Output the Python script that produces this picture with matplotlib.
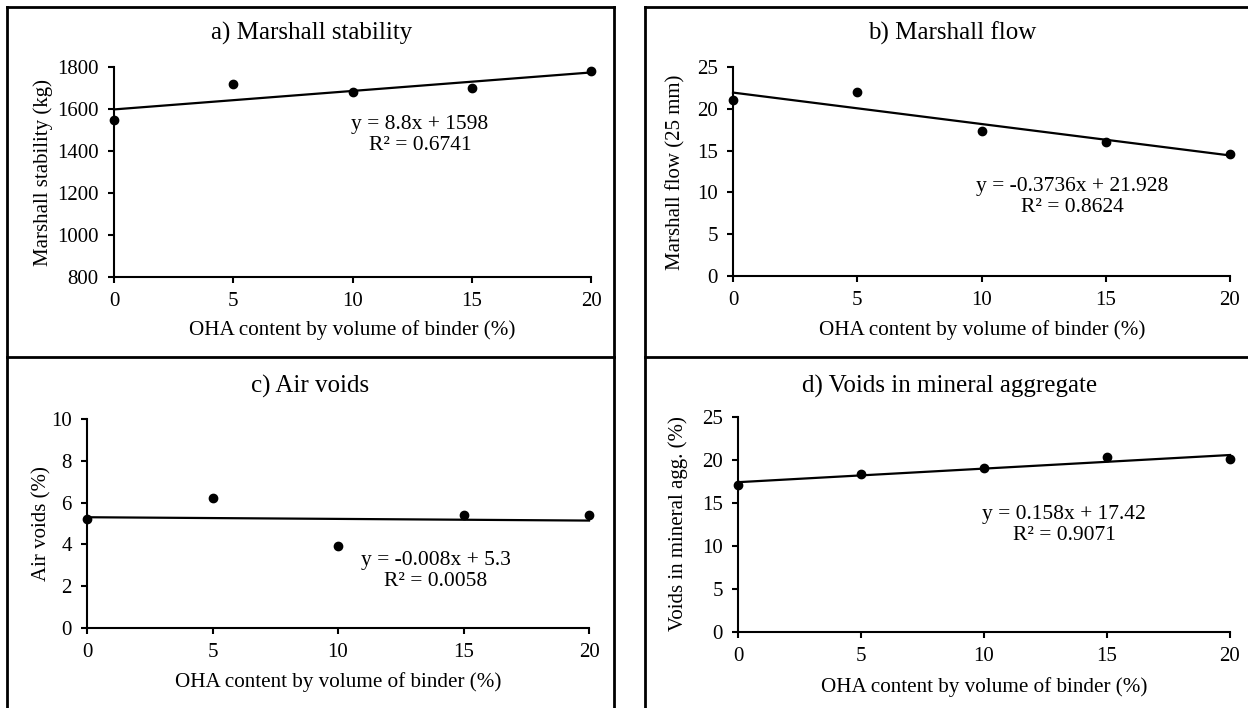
import numpy as np
import matplotlib
matplotlib.use("Agg")
import matplotlib.pyplot as plt
from matplotlib.lines import Line2D

plt.rcParams['font.family'] = ['Liberation Serif', 'DejaVu Serif']

# Data
oha = [0, 5, 10, 15, 20]
stability = [1550, 1720, 1680, 1700, 1780]
flow = [21.0, 22.0, 17.3, 16.0, 14.6]
air_voids = [5.2, 6.2, 3.9, 5.4, 5.4]
vma = [17.1, 18.4, 19.1, 20.3, 20.1]

titles = ["a) Marshall stability", "b) Marshall flow",
          "c) Air voids", "d) Voids in mineral aggregate"]
ylabels = ["Marshall stability (kg)", "Marshall flow (25 mm)",
           "Air voids (%)", "Voids in mineral agg. (%)"]
xlabel = "OHA content by volume of binder (%)"
equations = ["y = 8.8x + 1598\nR² = 0.6741",
             "y = -0.3736x + 21.928\nR² = 0.8624",
             "y = -0.008x + 5.3\nR² = 0.0058",
             "y = 0.158x + 17.42\nR² = 0.9071"]
yticks = [[800, 1000, 1200, 1400, 1600, 1800],
          [0, 5, 10, 15, 20, 25],
          [0, 2, 4, 6, 8, 10],
          [0, 5, 10, 15, 20, 25]]
series = [stability, flow, air_voids, vma]

W, H = 1248, 708

# layout in pixels: axes (left, top, right, bottom), title, ylabel, xlabel, equation
layout = [
    dict(ax=(114, 67, 591, 277), title=(312, 33), ylab=(43, 172), xlab=(352, 330), eq=(420, 135)),
    dict(ax=(733, 67, 1230, 276), title=(952, 33), ylab=(676, 172), xlab=(982, 330), eq=(1072, 197)),
    dict(ax=(87, 419, 589, 628), title=(310, 386), ylab=(42, 524), xlab=(338, 682), eq=(436, 571)),
    dict(ax=(738, 417, 1230, 632), title=(950, 386), ylab=(678, 524), xlab=(984, 687), eq=(1064, 525)),
]


def fx(x):
    return x / W


def fy(y):
    return 1 - y / H


fig = plt.figure(figsize=(12.48, 7.08), dpi=100)

for i in range(4):
    lay = layout[i]
    l, t, r, b = lay["ax"]
    ax = fig.add_axes([fx(l), fy(b), (r - l) / W, (b - t) / H])
    y = series[i]

    # linear trendline
    k, c = np.polyfit(oha, y, 1)
    xs = np.array([0, 20])
    ax.plot(xs, k * xs + c, color="black", lw=1.6, clip_on=False)
    ax.plot(oha, y, "o", color="black", ms=6, clip_on=False, zorder=3)

    ax.set_xlim(0, 20)
    ax.set_ylim(yticks[i][0], yticks[i][-1])
    ax.set_xticks(oha)
    ax.set_yticks(yticks[i])
    for s in ["top", "right"]:
        ax.spines[s].set_visible(False)
    for s in ["left", "bottom"]:
        ax.spines[s].set_linewidth(1.5)
    ax.tick_params(axis="both", direction="out", length=4, width=1.5,
                   labelsize=15, pad=7, colors="black")
    ax.patch.set_alpha(0)

    fig.text(fx(lay["title"][0]), fy(lay["title"][1]), titles[i],
             ha="center", va="center", fontsize=18)
    fig.text(fx(lay["ylab"][0]), fy(lay["ylab"][1]), ylabels[i],
             ha="center", va="center", rotation=90, fontsize=15)
    fig.text(fx(lay["xlab"][0]), fy(lay["xlab"][1]), xlabel,
             ha="center", va="center", fontsize=15.2)
    fig.text(fx(lay["eq"][0]), fy(lay["eq"][1]), equations[i],
             ha="center", va="center", multialignment="center",
             fontsize=15.5, linespacing=1.1)

# panel frames
frame = [
    ((6.5, 614), (6.5, 6.5)),
    ((6.5, 6.5), (6.5, 708)),
    ((614, 614), (6.5, 708)),
    ((6.5, 614), (357, 357)),
    ((645, 1248), (6.5, 6.5)),
    ((645, 645), (6.5, 708)),
    ((645, 1248), (357, 357)),
]
for xx, yy in frame:
    fig.add_artist(Line2D([fx(v) for v in xx], [fy(v) for v in yy],
                          transform=fig.transFigure, color="black", lw=2))

fig.savefig("out.png", dpi=100)
